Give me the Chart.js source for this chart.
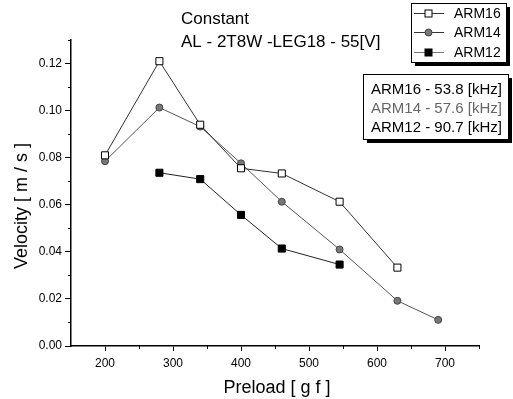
<!DOCTYPE html>
<html>
<head>
<meta charset="utf-8">
<script src="https://cdn.jsdelivr.net/npm/chart.js@4.4.0/dist/chart.umd.min.js"></script>
<style>
  html, body { margin: 0; padding: 0; background: #fff; }
  #wrap { width: 513px; height: 399px; }
</style>
</head>
<body>
<div id="wrap"><canvas id="velChart" width="513" height="399"></canvas></div>
<script>
//-------------------------------------------------------------
// Data
//-------------------------------------------------------------
const preloadArm16 = [200, 280, 340, 400, 460, 545, 630];
const velocityArm16 = [0.081, 0.121, 0.094, 0.0755, 0.0733, 0.0613, 0.0333];

const preloadArm14 = [200, 280, 340, 400, 460, 545, 630, 690];
const velocityArm14 = [0.0785, 0.1013, 0.0932, 0.0776, 0.0613, 0.041, 0.0192, 0.0111];

const preloadArm12 = [280, 340, 400, 460, 545];
const velocityArm12 = [0.0736, 0.0709, 0.0557, 0.0414, 0.0346];

const seriesLabels = ["ARM16", "ARM14", "ARM12"];
const xTicks = [200, 300, 400, 500, 600, 700];
const yTicks = [0.0, 0.02, 0.04, 0.06, 0.08, 0.1, 0.12];
const titleLines = ["Constant", "AL - 2T8W -LEG18 - 55[V]"];
const freqLines = ["ARM16 - 53.8 [kHz]", "ARM14 - 57.6 [kHz]", "ARM12 - 90.7 [kHz]"];

const FONT = "Arial, 'Liberation Sans', sans-serif";

function toPoints(xs, ys) {
  return xs.map((x, i) => ({ x, y: ys[i] }));
}

//-------------------------------------------------------------
// Overlay: titles, axis minor ticks, legend boxes
//-------------------------------------------------------------
const overlay = {
  id: "overlay",
  afterDraw(chart) {
    const ctx = chart.ctx;
    const xs = chart.scales.x;
    const ys = chart.scales.y;
    ctx.save();

    // minor ticks
    ctx.strokeStyle = "#000";
    ctx.lineWidth = 1;
    ctx.beginPath();
    for (let v = 250; v <= 750; v += 100) {
      const px = Math.round(xs.getPixelForValue(v)) + 0.5;
      ctx.moveTo(px, ys.bottom);
      ctx.lineTo(px, ys.bottom + 3);
    }
    for (let v = 0.01; v <= 0.131; v += 0.02) {
      const py = Math.round(ys.getPixelForValue(v)) + 0.5;
      ctx.moveTo(xs.left, py);
      ctx.lineTo(xs.left - 3, py);
    }
    ctx.stroke();

    // title
    ctx.fillStyle = "#000";
    ctx.font = "17px " + FONT;
    ctx.textBaseline = "alphabetic";
    ctx.textAlign = "left";
    ctx.fillText(titleLines[0], 181, 24);
    ctx.fillText(titleLines[1], 181, 47);

    // axis titles
    ctx.font = "18px " + FONT;
    ctx.textAlign = "center";
    ctx.fillText("Preload [ g f ]", 277, 393);
    ctx.save();
    ctx.translate(27, 206);
    ctx.rotate(-Math.PI / 2);
    ctx.fillText("Velocity [ m / s ]", 0, 0);
    ctx.restore();

    // legend box
    drawBox(ctx, 411, 3, 95, 59);
    ctx.font = "14px " + FONT;
    ctx.textAlign = "left";
    ctx.textBaseline = "middle";
    const rows = [13, 32, 52];
    chart.data.datasets.forEach((ds, i) => {
      const y = rows[i];
      ctx.strokeStyle = i === 2 ? "#777" : "#333";
      ctx.lineWidth = 1;
      ctx.beginPath();
      ctx.moveTo(414, y + 0.5);
      ctx.lineTo(444, y + 0.5);
      ctx.stroke();
      drawMarker(ctx, i, 428.5, y + 0.5);
      ctx.fillStyle = "#000";
      ctx.fillText(seriesLabels[i], 454, y + 1);
    });

    // frequency box
    drawBox(ctx, 363, 74, 145, 65);
    ctx.font = "15px " + FONT;
    const fRows = [89, 108, 127];
    freqLines.forEach((t, i) => {
      ctx.fillStyle = i === 1 ? "#666" : "#000";
      ctx.fillText(t, 371, fRows[i] + 1);
    });

    ctx.restore();
  },
};

function drawBox(ctx, x, y, w, h) {
  ctx.fillStyle = "#000";
  ctx.fillRect(x + 4, y + 4, w, h);
  ctx.fillStyle = "#fff";
  ctx.fillRect(x, y, w, h);
  ctx.strokeStyle = "#000";
  ctx.lineWidth = 1;
  ctx.strokeRect(x + 0.5, y + 0.5, w, h);
}

function drawMarker(ctx, i, x, y) {
  ctx.lineWidth = 1;
  if (i === 1) {
    ctx.fillStyle = "#777";
    ctx.strokeStyle = "#444";
    ctx.beginPath();
    ctx.arc(x, y, 3.5, 0, Math.PI * 2);
    ctx.fill();
    ctx.stroke();
  } else {
    ctx.fillStyle = i === 0 ? "#fff" : "#000";
    ctx.strokeStyle = "#000";
    ctx.fillRect(x - 3.5, y - 3.5, 7, 7);
    ctx.strokeRect(x - 3.5, y - 3.5, 7, 7);
  }
}

//-------------------------------------------------------------
// Chart
//-------------------------------------------------------------
const ctx = document.getElementById("velChart").getContext("2d");
new Chart(ctx, {
  type: "line",
  data: {
    datasets: [
      {
        label: seriesLabels[0],
        data: toPoints(preloadArm16, velocityArm16),
        borderColor: "#333",
        borderWidth: 1,
        pointStyle: "rect",
        pointRadius: 5,
        pointBackgroundColor: "#fff",
        pointBorderColor: "#000",
        pointBorderWidth: 1,
        tension: 0,
      },
      {
        label: seriesLabels[1],
        data: toPoints(preloadArm14, velocityArm14),
        borderColor: "#555",
        borderWidth: 1,
        pointStyle: "circle",
        pointRadius: 3.5,
        pointBackgroundColor: "#777",
        pointBorderColor: "#444",
        pointBorderWidth: 1,
        tension: 0,
      },
      {
        label: seriesLabels[2],
        data: toPoints(preloadArm12, velocityArm12),
        borderColor: "#222",
        borderWidth: 1,
        pointStyle: "rect",
        pointRadius: 5,
        pointBackgroundColor: "#000",
        pointBorderColor: "#000",
        pointBorderWidth: 1,
        tension: 0,
      },
    ],
  },
  options: {
    responsive: false,
    animation: false,
    layout: { padding: { top: 40, right: 34, left: 0, bottom: 0 } },
    plugins: { legend: { display: false }, tooltip: { enabled: false } },
    scales: {
      x: {
        type: "linear",
        min: 150,
        max: 750,
        afterBuildTicks: (s) => { s.ticks = xTicks.map((v) => ({ value: v })); },
        afterFit: (s) => { s.height = 53; },
        grid: { display: true, drawOnChartArea: false, drawTicks: true, tickLength: 5, color: "#000" },
        border: { display: true, color: "#000", width: 1.5 },
        ticks: { color: "#000", font: { family: FONT, size: 12 }, padding: 5, maxRotation: 0 },
      },
      y: {
        type: "linear",
        min: 0,
        max: 0.13,
        afterBuildTicks: (s) => { s.ticks = yTicks.map((v) => ({ value: v })); },
        afterFit: (s) => { s.width = 71; },
        grid: { display: true, drawOnChartArea: false, drawTicks: true, tickLength: 6, color: "#000" },
        border: { display: true, color: "#000", width: 1.5 },
        ticks: {
          color: "#000",
          font: { family: FONT, size: 12 },
          padding: 3,
          callback: (v) => v.toFixed(2),
        },
      },
    },
  },
  plugins: [overlay],
});
</script>
</body>
</html>
